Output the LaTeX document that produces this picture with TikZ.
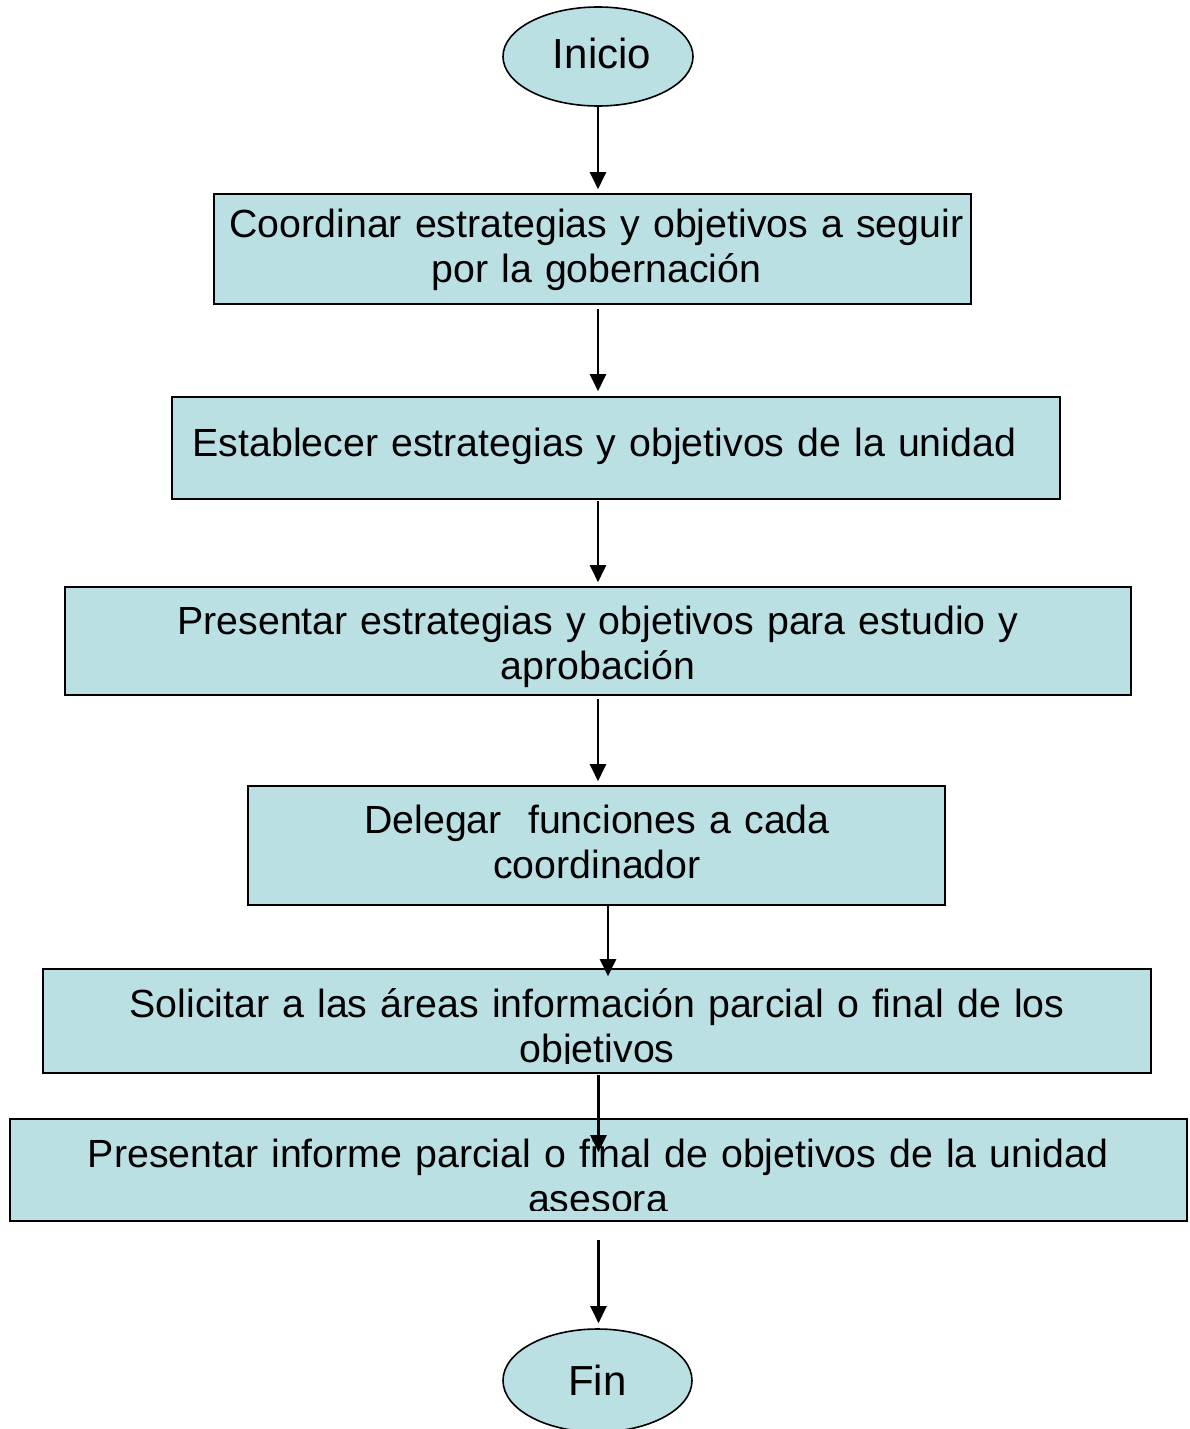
\documentclass[tikz,border=0pt]{standalone}
\usepackage{fontspec}
\setmainfont{Liberation Sans}
\usetikzlibrary{arrows.meta,shapes.geometric}
\definecolor{boxfill}{RGB}{187,224,227}
\begin{document}
\begin{tikzpicture}[x=1pt,y=-1pt,
  box/.style={draw=black, line width=1.6pt, fill=boxfill, rectangle, inner sep=0pt},
  term/.style={draw=black, line width=1.6pt, fill=boxfill, ellipse, inner sep=0pt, minimum width=190pt, minimum height=99pt},
  txt/.style={font=\fontsize{39.3}{45}\selectfont, align=center, text width=1180pt, inner sep=0pt, anchor=base},
  ttxt/.style={font=\fontsize{42}{48}\selectfont, inner sep=0pt, anchor=base},
  arr/.style={line width=2.2pt, -{Triangle[length=17pt,width=16pt]}}]
\clip (0,0) rectangle (1189,1429);
\fill[white] (0,0) rectangle (1189,1429);

% terminals
\node[term] (inicio) at (598,56.5) {};
\node[ttxt] (tinicio) at (602,68) {Inicio};
\node[term, minimum width=189pt, minimum height=103pt] (fin) at (597.5,1380.5) {};
\node[ttxt] (tfin) at (597.5,1395) {Fin};

% process boxes
\node[box, minimum width=757pt, minimum height=110pt] (b1) at (592.5,249) {};
\node[txt] (t1) at (596.5,237) {Coordinar estrategias y objetivos a seguir\\por la gobernación};

\node[box, minimum width=888pt, minimum height=102pt] (b2) at (616,448) {};
\node[txt] (t2) at (604.5,456) {Establecer estrategias y objetivos de la unidad};

\node[box, minimum width=1066pt, minimum height=108pt] (b3) at (598,641) {};
\node[txt] (t3) at (598,634) {Presentar estrategias y objetivos para estudio y\\aprobación};

\node[box, minimum width=697pt, minimum height=119pt] (b4) at (596.5,845.5) {};
\node[txt] (t4) at (597,833) {Delegar\ \ funciones a cada\\coordinador};

\node[box, minimum width=1108pt, minimum height=104pt] (b5) at (597,1021) {};
\begin{scope}
  \clip (b5.north west) rectangle ([yshift=10pt]b5.south east);
  \node[txt] (t5) at (597,1017) {Solicitar a las áreas información parcial o final de los\\objetivos};
\end{scope}

\node[box, minimum width=1177pt, minimum height=102pt] (b7) at (598.5,1170) {};
\begin{scope}
  \clip (b7.north west) rectangle ([yshift=11pt]b7.south east);
  \node[txt] (t7) at (598,1167) {Presentar informe parcial o final de objetivos de la unidad\\asesora};
\end{scope}

% connectors
\draw[arr, shorten >=4pt] (inicio.south) -- (inicio.south |- b1.north);
\draw[arr, shorten <=4pt, shorten >=5pt] (inicio.south |- b1.south) -- (inicio.south |- b2.north);
\draw[arr, shorten <=1pt, shorten >=4pt] (b3.north |- b2.south) -- (b3.north);
\draw[arr, shorten <=3pt, shorten >=4pt] (b3.south) -- (b3.south |- b4.north);
\path ([xshift=11.5pt]b4.south) coordinate (a5s);
\draw[arr, shorten >=-8pt] (a5s) -- (a5s |- b5.north);
\draw[arr, shorten <=1pt, shorten >=-34pt] (b7.north |- b5.south) -- (b7.north);
\draw[arr, shorten <=18pt, shorten >=5pt] (b7.south) -- (b7.south |- fin.north);
\end{tikzpicture}
\end{document}
